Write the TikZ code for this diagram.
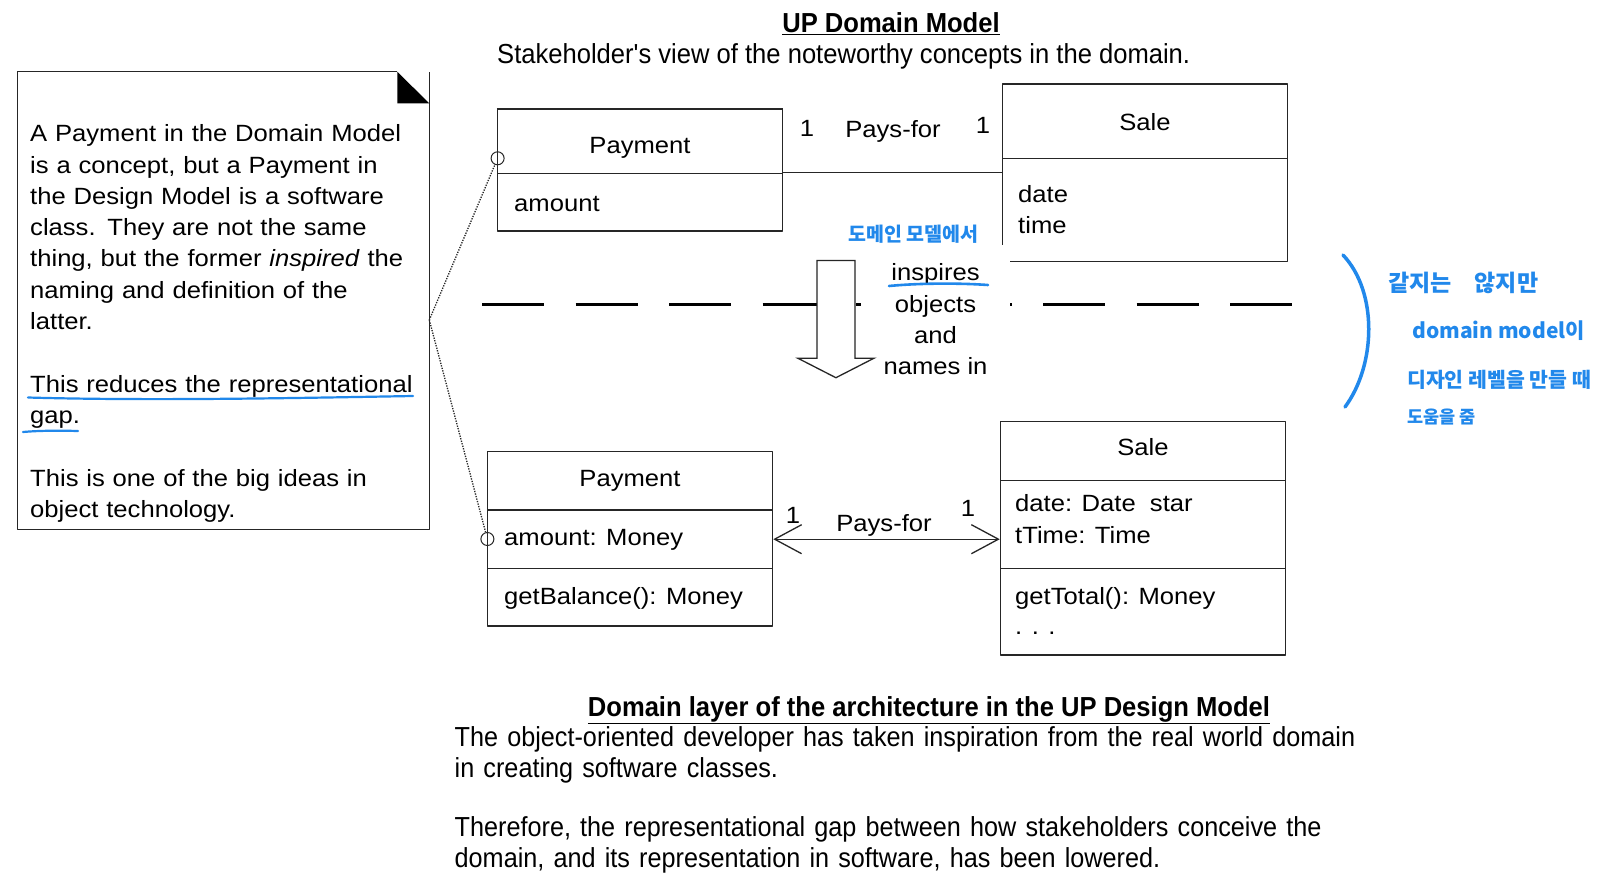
\documentclass[tikz,border=0pt]{standalone}
\usepackage{fontspec}
\setmainfont[FakeStretch=1.09]{Liberation Sans}
\newfontfamily\tallfont[FakeStretch=0.93]{Liberation Sans}
\newfontfamily\bodyfont[FakeStretch=0.917]{Liberation Sans}
\newfontfamily\handfont{Noto Sans CJK KR}
\usetikzlibrary{arrows.meta}
\definecolor{ink}{RGB}{38,38,38}
\definecolor{pen}{RGB}{33,136,235}
\begin{document}
\begin{tikzpicture}[x=1pt,y=-1pt,line join=bevel,>={Straight Barb[length=27pt,width=29pt]},
  cell/.style={draw=ink,line width=1.3pt,inner sep=0pt,minimum width=285.2pt},
  txt/.style={inner sep=0pt,font=\fontsize{23.5}{31.3}\selectfont},
  tall/.style={inner sep=0pt,font=\tallfont\fontsize{27.5}{31}\selectfont},
  body/.style={inner sep=0pt,font=\bodyfont\fontsize{27.5}{31}\selectfont},
  headline/.style={inner sep=0pt,font=\tallfont\bfseries\fontsize{27.5}{31}\selectfont},
  hand/.style={inner sep=0pt,text=pen,font=\handfont\bfseries\fontsize{#1}{#1}\selectfont},
  pin/.style={draw=ink,circle,line width=1pt,inner sep=0pt,minimum size=13pt},
  pinline/.style={draw=ink,line width=1.3pt,dash pattern=on 1.3pt off 1.3pt},
  assoc/.style={draw=ink,line width=1.3pt},
]
%%
\fill[white] (0,0) rectangle (1609,873);
\useasboundingbox (0,0) rectangle (1609,873);
%% note
\draw[ink,line width=1.3pt] (397.3,71.8) -- (17.4,71.8) -- (17.4,529.4) -- (429.3,529.4) -- (429.3,71.8);
\fill[black] (397.3,71.8) -- (397.3,103.3) -- (429.3,103.3) -- cycle;
\node (note_txt) at (30,119.6) [txt,anchor=north west,text width=395pt,align=left] {\strut A Payment in the Domain Model\\
  is a concept, but a Payment in\\ the Design Model is a software\\ class. They are not the same\\
  thing, but the former \textit{inspired} the\\ naming and definition of the\\ latter.\\[31.3pt]
  This reduces the representational\\ gap.\\[31.3pt]
  This is one of the big ideas in\\ object technology.};
\coordinate (note_pin) at (429.3,320);
%% titles
\node (dm_title) at (891,32.5) [headline,anchor=base] {\underline{UP Domain Model}};
\node (dm_sub) at (497,63.5) [tall,anchor=base west] {Stakeholder's view of the noteworthy concepts in the domain.};
%% domain model
\node (pdm_name) at (640.2,141.6) [cell,minimum height=63.6pt] {};
\node (pdm_attr) at (640.2,202.15) [cell,minimum height=57.5pt] {};
\draw[ink,line width=2.6pt] (pdm_name.north west) -- (pdm_name.north east);
\node (pdm_title) at (640,153.3) [txt,anchor=base] {Payment};
\node (pdm_amount) at (514,211) [txt,anchor=base west] {amount};
\node (sdm_name) at (1145,121.2) [cell,minimum height=74.2pt] {};
\node (sdm_attr) at (1145,210) [cell,minimum height=103.4pt] {};
\node (sdm_title) at (1145,130) [txt,anchor=base] {Sale};
\node (sdm_date) at (1018,202) [txt,anchor=base west] {date};
\node (sdm_time) at (1018,233) [txt,anchor=base west] {time};
\draw[assoc] (pdm_attr.north east) -- (pdm_attr.north east -| sdm_attr.west);
\node (m1_dm) at (807,136.5) [txt,anchor=base] {1};
\node (pf_dm) at (893,137) [txt,anchor=base] {Pays-for};
\node (m2_dm) at (983,133.5) [txt,anchor=base] {1};
%% separator and inspires arrow
\coordinate (sep_l) at (482,304.3);
\coordinate (sep_r) at (1293,304.3);
\draw[line width=3.5pt,dash pattern=on 62pt off 31.5pt] (sep_l) -- (sep_r);
\node (inspire) at (935.5,319.5) [txt,fill=white,minimum width=149pt,minimum height=150pt,align=center] {inspires\\objects\\and\\names in};
\draw[ink,line width=1.3pt,line join=miter,fill=white] (817,260.5) -- (855,260.5) -- (855,358.3) -- (873.8,358.3) -- (835.9,377.7) -- (798,358.3) -- (817,358.3) -- cycle;
\draw[pen,line width=2.6pt,line cap=round] (889,286) .. controls (920,283) and (960,283) .. (988,285);
\node (kr_dm) at (848,234) [hand=19.5,anchor=west] {도메인 모델에서};
%% design model
\node (pds_name) at (630,480.7) [cell,minimum height=58.6pt] {};
\node (pds_attr) at (630,539.2) [cell,minimum height=58.4pt] {};
\node (pds_ops) at (630,597.15) [cell,minimum height=57.5pt] {};
\node (pds_title) at (630,486.7) [txt,anchor=base] {Payment};
\node (pds_amount) at (504,545.5) [txt,anchor=base west] {amount: Money};
\node (pds_bal) at (504,604) [txt,anchor=base west] {getBalance(): Money};
\node (sds_name) at (1143,450.95) [cell,minimum height=58.5pt] {};
\node (sds_attr) at (1143,524.3) [cell,minimum height=88.2pt] {};
\node (sds_ops) at (1143,611.7) [cell,minimum height=86.6pt] {};
\node (sds_title) at (1143,455.5) [txt,anchor=base] {Sale};
\node (sds_date) at (1015,511.5) [txt,anchor=base west] {date: Date~ star};
\node (sds_time) at (1015,543) [txt,anchor=base west] {tTime: Time};
\node (sds_total) at (1015,604.5) [txt,anchor=base west] {getTotal(): Money};
\node (sds_more) at (1015,634) [txt,anchor=base west] {. . .};
\draw[assoc,<->] (pds_attr.east) -- (pds_attr.east -| sds_attr.west);
\node (m1_ds) at (793,523.5) [txt,anchor=base] {1};
\node (pf_ds) at (884,531.5) [txt,anchor=base] {Pays-for};
\node (m2_ds) at (968,516) [txt,anchor=base] {1};
%% note pins
\node (pin_dm) at (497.6,158.3) [pin] {};
\node (pin_ds) at (487.4,539) [pin] {};
\draw[pinline] (note_pin) -- (pin_dm);
\draw[pinline] (note_pin) -- (pin_ds);
%% handwriting
\draw[pen,line width=2.2pt,line cap=round] (28,397.5) .. controls (150,401) and (300,398) .. (413,396);
\draw[pen,line width=2.2pt,line cap=round] (23,432) .. controls (40,430.5) and (60,430.5) .. (78,431);
\draw[pen,line width=3.5pt,line cap=round] (1343,255) .. controls (1378,292) and (1376,365) .. (1345,407);
\node (kr_1) at (1388,283) [hand=23,anchor=west] {같지는\quad 않지만};
\node (kr_2) at (1412,331) [hand=21,anchor=west] {domain model이};
\node (kr_3) at (1407,380) [hand=20.5,anchor=west] {디자인 레벨을 만들 때};
\node (kr_4) at (1407,417) [hand=17.5,anchor=west] {도움을 줌};
%% design model caption
\node (ds_title) at (929,716) [headline,anchor=base] {\underline{Domain layer of the architecture in the UP Design Model}};
\node (ds_text) at (454.5,724.3) [body,anchor=north west,text width=930pt,align=left] {\strut The object-oriented developer has taken inspiration from the real world domain\\
  in creating software classes.\\[28pt]
  Therefore, the representational gap between how stakeholders conceive the\\
  domain, and its representation in software, has been lowered.};
%
\end{tikzpicture}
\end{document}
